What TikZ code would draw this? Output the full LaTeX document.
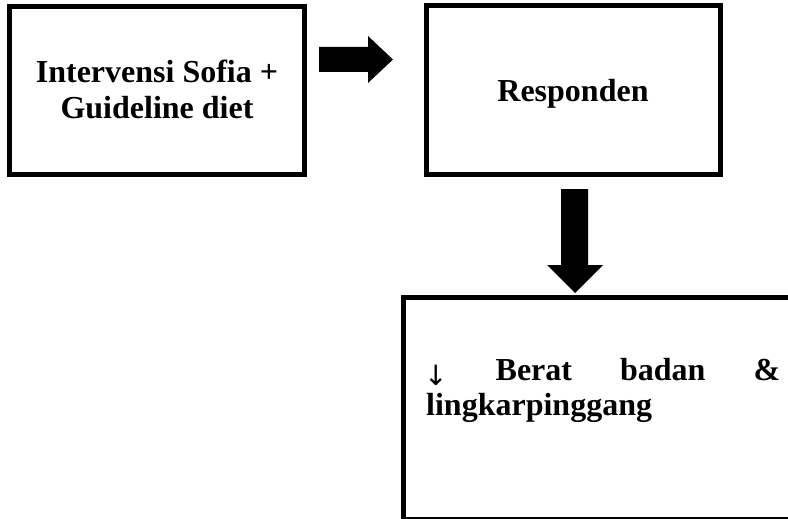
\documentclass[tikz,border=0pt]{standalone}
\usepackage{fontspec}
\setmainfont{Liberation Serif}
\newfontfamily\dvsans{DejaVu Sans}
\begin{document}
\begin{tikzpicture}[x=1pt,y=-1pt,
  box/.style={draw, line width=5pt, rectangle, inner sep=0pt},
  lbl/.style={font=\fontsize{32}{35}\selectfont\bfseries, inner sep=0pt},
  blockarrow/.style={fill=black, draw=none}]
\useasboundingbox (0,0) rectangle (788,519);
\clip (0,0) rectangle (788,519);
% boxes
\node[box, minimum width=295pt, minimum height=167.5pt] (b1) at (156.5,90.25) {};
\node[box, minimum width=294.5pt, minimum height=168pt] (b2) at (573.25,90) {};
\node[box, minimum width=407pt, minimum height=222pt] (b3) at (606.5,408.5) {};
% texts
\node[lbl, anchor=base] (t1a) at (157,83) {Intervensi Sofia +};
\node[lbl, anchor=base] (t1b) at (157,118) {Guideline diet};
\node[lbl, anchor=base] (t2) at (573,102) {Responden};
\node[lbl, anchor=base west] (t3a) at (424,380) {\hbox to 356pt{\raisebox{-5pt}{\dvsans\mdseries\fontsize{28}{28}\selectfont ↓}\hfill Berat\hfill badan\hfill \&}};
\node[lbl, anchor=base west] (t3b) at (426,415) {lingkarpinggang};
% block arrows
\fill[blockarrow] (319,47) -- (368,47) -- (368,36) -- (393,59.5) -- (368,83) -- (368,72) -- (319,72) -- cycle;
\fill[blockarrow] (561,189) -- (588,189) -- (588,265) -- (603,265) -- (575,293) -- (547,265) -- (561,265) -- cycle;
\end{tikzpicture}
\end{document}
